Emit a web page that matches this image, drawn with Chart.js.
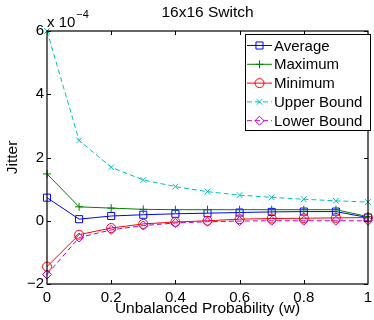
<!DOCTYPE html>
<html>
<head>
<meta charset="utf-8">
<script src="https://cdn.jsdelivr.net/npm/chart.js@4.4.1/dist/chart.umd.min.js"></script>
<style>
  html, body { margin: 0; padding: 0; background: #fff; }
  canvas { display: block; }
</style>
</head>
<body>
<canvas id="chart" width="374" height="320"></canvas>
<script>
// jitter values are in units of 10^-4 (the axis carries the "x 10^-4" factor)
const wValues    = [0, 0.1, 0.2, 0.3, 0.4, 0.5, 0.6, 0.7, 0.8, 0.9, 1.0];
const average    = [0.73, 0.05, 0.15, 0.19, 0.22, 0.24, 0.26, 0.28, 0.29, 0.29, 0.10];
const maximum    = [1.48, 0.44, 0.40, 0.36, 0.35, 0.35, 0.35, 0.35, 0.35, 0.35, 0.13];
const minimum    = [-1.45, -0.44, -0.23, -0.10, -0.04, 0.00, 0.05, 0.07, 0.08, 0.09, 0.10];
const upperBound = [6.00, 2.54, 1.69, 1.29, 1.08, 0.92, 0.81, 0.74, 0.68, 0.63, 0.59];
const lowerBound = [-1.70, -0.53, -0.29, -0.15, -0.07, -0.03, -0.01, 0.00, 0.00, 0.00, 0.00];
const seriesNames = ['Average', 'Maximum', 'Minimum', 'Upper Bound', 'Lower Bound'];
const yTickValues = [-2, 0, 2, 4, 6];
const exponent = -4;

const FONT = "'Liberation Sans', Arial, Helvetica, sans-serif";

function pts(ys){
  return ys.map((y, i) => ({ x: wValues[i], y: y }));
}

function series(idx, ys, color, style, radius, dashed, order){
  return {
    label: seriesNames[idx],
    data: pts(ys),
    borderColor: color,
    borderWidth: 1,
    borderDash: dashed ? [5, 3] : [],
    pointStyle: style,
    pointRadius: radius,
    pointBorderColor: color,
    pointBackgroundColor: 'rgba(0,0,0,0)',
    pointBorderWidth: 1,
    tension: 0,
    fill: false,
    clip: false,
    order: order
  };
}

const datasets = [
  series(0, average,    '#0000ff', 'rect',     5,   false, 5),
  series(1, maximum,    '#008000', 'cross',    4,   false, 4),
  series(2, minimum,    '#ff0000', 'circle',   4.5, false, 3),
  series(3, upperBound, '#00bfbf', 'crossRot', 4,   true,  2),
  series(4, lowerBound, '#bf00bf', 'rectRot',  4.5, true,  1)
];

/* frame, inner tick marks, title, exponent and legend (MATLAB look) */
const matlabDecor = {
  id: 'matlabDecor',
  afterDraw(chart){
    const ctx = chart.ctx;
    const a = chart.chartArea;
    const xs = chart.scales.x, ys = chart.scales.y;
    ctx.save();

    // box
    ctx.strokeStyle = '#000';
    ctx.lineWidth = 1.2;
    ctx.strokeRect(a.left, a.top, a.right - a.left, a.bottom - a.top);

    // inward ticks
    ctx.lineWidth = 1;
    const tl = 4;
    ctx.beginPath();
    for (let v = 0.2; v < 1; v += 0.2){
      const px = Math.round(xs.getPixelForValue(v)) + 0.5;
      ctx.moveTo(px, a.bottom); ctx.lineTo(px, a.bottom - tl);
      ctx.moveTo(px, a.top);    ctx.lineTo(px, a.top + tl);
    }
    yTickValues.forEach(v => {
      const py = Math.round(ys.getPixelForValue(v)) + 0.5;
      ctx.moveTo(a.left, py);  ctx.lineTo(a.left + tl, py);
      ctx.moveTo(a.right, py); ctx.lineTo(a.right - tl, py);
    });
    ctx.stroke();

    // title
    ctx.fillStyle = '#000';
    ctx.font = '15.5px ' + FONT;
    ctx.textAlign = 'center';
    ctx.textBaseline = 'middle';
    ctx.fillText('16x16 Switch', (a.left + a.right) / 2, 13);

    // exponent label
    ctx.textAlign = 'left';
    ctx.textBaseline = 'alphabetic';
    ctx.font = '15px ' + FONT;
    ctx.fillText('x 10', a.left, 27);
    const w = ctx.measureText('x 10').width;
    ctx.font = '11px ' + FONT;
    ctx.fillText('\u2212' + Math.abs(exponent), a.left + w + 1, 18);

    // legend
    const lx = 245, ly = 34, lw = 125, lh = 96;
    ctx.fillStyle = '#fff';
    ctx.fillRect(lx, ly, lw, lh);
    ctx.strokeStyle = '#000';
    ctx.lineWidth = 1;
    ctx.strokeRect(lx + 0.5, ly + 0.5, lw, lh);
    ctx.font = '15px ' + FONT;
    ctx.textBaseline = 'middle';
    chart.data.datasets.forEach((ds, i) => {
      const cy = ly + 11.5 + i * 18.8;
      ctx.strokeStyle = ds.borderColor;
      ctx.lineWidth = 1;
      ctx.setLineDash(ds.borderDash);
      ctx.beginPath();
      ctx.moveTo(lx + 2, cy); ctx.lineTo(lx + 27, cy);
      ctx.stroke();
      ctx.setLineDash([]);
      ctx.fillStyle = 'rgba(0,0,0,0)';
      Chart.helpers.drawPoint(ctx, {
        pointStyle: ds.pointStyle, radius: ds.pointRadius, borderWidth: 1
      }, lx + 14.5, cy);
      ctx.fillStyle = '#000';
      ctx.fillText(ds.label, lx + 29, cy + 1);
    });
    ctx.restore();
  }
};

new Chart(document.getElementById('chart'), {
  type: 'line',
  data: { datasets: datasets },
  plugins: [matlabDecor],
  options: {
    responsive: false,
    animation: false,
    devicePixelRatio: 1,
    layout: { padding: { top: 31, right: 1, left: 0, bottom: 0 } },
    plugins: {
      legend: { display: false },
      title: { display: false },
      tooltip: { enabled: false }
    },
    scales: {
      x: {
        type: 'linear',
        min: 0, max: 1,
        border: { display: false },
        grid: { display: false, drawTicks: false },
        ticks: {
          stepSize: 0.2,
          padding: 5,
          color: '#000',
          font: { family: FONT, size: 15 },
          maxRotation: 0,
          callback: v => String(Number(v.toFixed(1)))
        },
        title: {
          display: true,
          text: 'Unbalanced Probability (w)',
          color: '#000',
          font: { family: FONT, size: 15.5 },
          padding: { top: 0, bottom: 2 }
        },
        afterFit(scale){
          scale.height = 36;
          scale.paddingLeft = 0;
          scale.paddingRight = 0;
        }
      },
      y: {
        min: -2, max: 6,
        border: { display: false },
        grid: { display: false, drawTicks: false },
        ticks: {
          stepSize: 2,
          padding: 3,
          color: '#000',
          font: { family: FONT, size: 15 },
          callback: v => v < 0 ? '\u2212' + Math.abs(v) : String(v)
        },
        title: {
          display: true,
          text: 'Jitter',
          color: '#000',
          font: { family: FONT, size: 15.5 },
          padding: { top: 3, bottom: 0 }
        },
        afterFit(scale){
          scale.width = 47;
          scale.paddingTop = 0;
          scale.paddingBottom = 0;
        }
      }
    }
  }
});
</script>
</body>
</html>
